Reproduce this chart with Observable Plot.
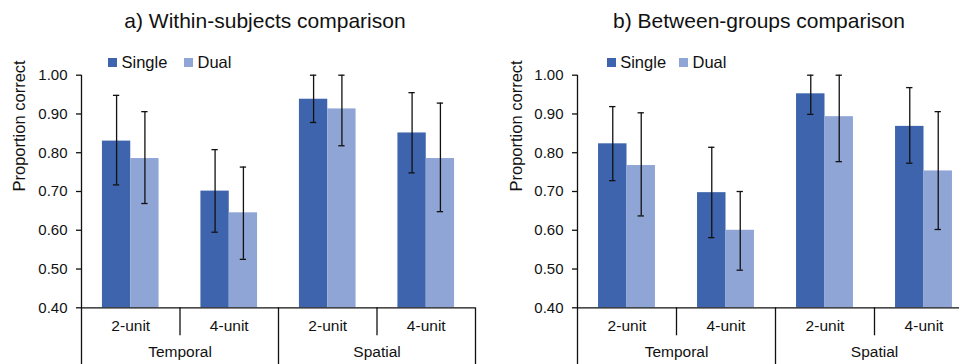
<!DOCTYPE html>
<html>
<head>
<meta charset="utf-8">
<script src="https://cdn.jsdelivr.net/npm/d3@7"></script>
<script src="https://cdn.jsdelivr.net/npm/@observablehq/plot@0.6"></script>
<style>
  html, body { margin: 0; padding: 0; background: #fff; }
  #root { position: relative; width: 959px; height: 364px; overflow: hidden;
          font-family: "Liberation Sans", Arial, sans-serif; color: #111; }
  .title { position: absolute; top: 10px; font-size: 21px; line-height: 21px;
           white-space: nowrap; transform: translateX(-50%); }
  .leg { position: absolute; top: 54px; font-size: 16.5px; line-height: 16.5px; white-space: nowrap; }
  .sw { display: inline-block; width: 9px; height: 9px; margin-right: 4.5px; vertical-align: 1px; }
  #root svg { position: absolute; top: 0; }
</style>
</head>
<body>
<div id="root"></div>
<script>
// ---- data ----
const groups = ["Temporal", "Temporal", "Spatial", "Spatial"];
const units = ["2-unit", "4-unit", "2-unit", "4-unit"];
const series = ["Single", "Dual"];
const seriesColors = ["#3d64ac", "#8fa5d5"];
const yTicks = [0.40, 0.50, 0.60, 0.70, 0.80, 0.90, 1.00];
const yLabel = "Proportion correct";
const titles = ["a) Within-subjects comparison", "b) Between-groups comparison"];

// a) Within-subjects
const withinSingle   = [0.830, 0.701, 0.938, 0.851];
const withinSingleLo = [0.717, 0.595, 0.878, 0.748];
const withinSingleHi = [0.948, 0.808, 1.000, 0.955];
const withinDual     = [0.785, 0.645, 0.913, 0.785];
const withinDualLo   = [0.669, 0.525, 0.818, 0.648];
const withinDualHi   = [0.906, 0.763, 1.000, 0.928];

// b) Between-groups
const betweenSingle   = [0.823, 0.697, 0.952, 0.868];
const betweenSingleLo = [0.728, 0.581, 0.899, 0.773];
const betweenSingleHi = [0.919, 0.814, 1.000, 0.968];
const betweenDual     = [0.767, 0.600, 0.893, 0.753];
const betweenDualLo   = [0.637, 0.497, 0.777, 0.602];
const betweenDualHi   = [0.903, 0.700, 1.000, 0.906];

// ---- layout ----
const yMin = yTicks[0], yMax = yTicks[yTicks.length - 1];
const barW = 0.2875;   // bar width in category units
const capHalf = 0.032; // error-bar cap half-width in category units
const ink = "#111";

function buildRows(vals, los, his) {
  return units.flatMap((u, i) => series.map((s, k) => ({
    series: s, cat: i,
    value: vals[k][i], lo: los[k][i], hi: his[k][i],
    x1: i + 0.5 + (k - 1) * barW, x2: i + 0.5 + k * barW
  })));
}

function panel(rows, opt) {
  const n = units.length;
  const bounds = d3.range(1, n).map(b => ({b, major: groups[b] !== groups[b - 1]}));
  const majors = [...bounds.filter(d => d.major).map(d => d.b), n];
  const minors = bounds.filter(d => !d.major).map(d => d.b);
  const groupNames = [...new Set(groups)];
  const groupLabels = groupNames.map(g => {
    const idx = groups.map((v, i) => v === g ? i : null).filter(v => v !== null);
    return {g, x: d3.mean(idx) + 0.5};
  });
  const unitLabels = units.map((u, i) => ({u, x: i + 0.5}));
  const xc = d => (d.x1 + d.x2) / 2;

  return Plot.plot({
    width: opt.width, height: 364,
    marginLeft: opt.marginLeft, marginRight: opt.marginRight,
    marginTop: 74.7, marginBottom: 56.7,
    x: {domain: [0, n], axis: null},
    y: {domain: [yMin, yMax], axis: null},
    color: {domain: series, range: seriesColors},
    style: {left: opt.left + "px", fontFamily: '"Liberation Sans", Arial, sans-serif', color: ink, overflow: "visible", maxWidth: "none"},
    marks: [
      Plot.rectY(rows, {x1: "x1", x2: "x2", y1: yMin, y2: "value", fill: "series"}),
      Plot.ruleX(rows, {x: xc, y1: "lo", y2: "hi", stroke: ink, strokeWidth: 1.3}),
      Plot.ruleY(rows, {y: "hi", x1: d => xc(d) - capHalf, x2: d => xc(d) + capHalf, stroke: ink, strokeWidth: 1.3}),
      Plot.ruleY(rows, {y: "lo", x1: d => xc(d) - capHalf, x2: d => xc(d) + capHalf, stroke: ink, strokeWidth: 1.3}),
      Plot.axisY({ticks: yTicks, tickFormat: d3.format(".2f"), tickSize: 5, tickPadding: 9,
                  fontSize: 15, label: null, stroke: ink, strokeWidth: 1.3, fill: ink}),
      Plot.text([yLabel], {frameAnchor: "left", rotate: -90, lineAnchor: "top", dx: -opt.labelOffset,
                           fontSize: 16.5, fill: ink}),
      Plot.ruleY([yMin], {stroke: ink, strokeWidth: 1.3}),
      Plot.ruleX([0], {y1: yMax, y2: yMin, insetBottom: -60, stroke: ink, strokeWidth: 1.3}),
      Plot.ruleX(majors, {y1: yMin, y2: yMin, insetBottom: -60, stroke: ink, strokeWidth: 1.3}),
      Plot.ruleX(minors, {y1: yMin, y2: yMin, insetBottom: -28, stroke: ink, strokeWidth: 1.3}),
      Plot.text(unitLabels, {x: "x", y: yMin, text: "u", dy: 18.7, fontSize: 15.5, fill: ink}),
      Plot.text(groupLabels, {x: "x", y: yMin, text: "g", dy: 44.7, fontSize: 15.5, fill: ink})
    ]
  });
}

const root = document.getElementById("root");
const panels = [
  {rows: buildRows([withinSingle, withinDual], [withinSingleLo, withinDualLo], [withinSingleHi, withinDualHi]),
   opt: {left: 0, width: 480, marginLeft: 81, marginRight: 5, labelOffset: 68},
   titleX: 265, legendX: [108, 184]},
  {rows: buildRows([betweenSingle, betweenDual], [betweenSingleLo, betweenDualLo], [betweenSingleHi, betweenDualHi]),
   opt: {left: 480, width: 493, marginLeft: 97, marginRight: 0, labelOffset: 67},
   titleX: 759, legendX: [606.7, 679]}
];

panels.forEach((p, pi) => {
  root.appendChild(panel(p.rows, p.opt));
  const t = document.createElement("div");
  t.className = "title";
  t.style.left = p.titleX + "px";
  t.textContent = titles[pi];
  root.appendChild(t);
  series.forEach((s, k) => {
    const item = document.createElement("div");
    item.className = "leg";
    item.style.left = p.legendX[k] + "px";
    const sw = document.createElement("span");
    sw.className = "sw";
    sw.style.background = seriesColors[k];
    item.appendChild(sw);
    item.appendChild(document.createTextNode(s));
    root.appendChild(item);
  });
});
</script>
</body>
</html>
